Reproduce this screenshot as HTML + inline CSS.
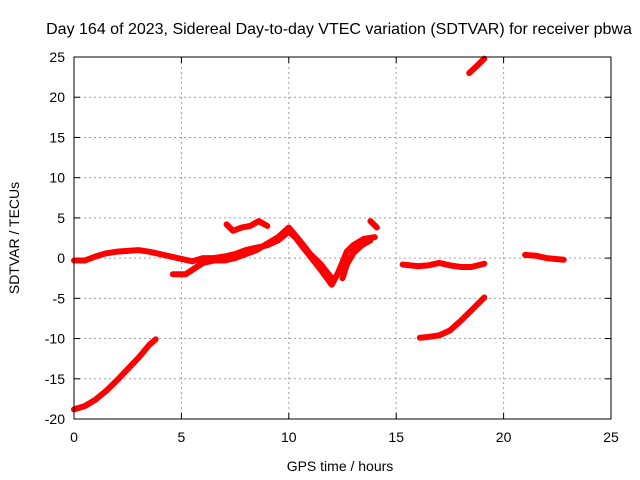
<!DOCTYPE html>
<html><head><meta charset="utf-8"><style>
body{margin:0;background:#fff}
svg{display:block;font-family:"Liberation Sans",sans-serif}
</style></head><body>
<svg id="chart" width="640" height="480">
<rect width="640" height="480" fill="#fff"/>
<text x="339" y="34" font-size="16" text-anchor="middle">Day 164 of 2023, Sidereal Day-to-day VTEC variation (SDTVAR) for receiver pbwa</text>
<text x="340" y="471" font-size="14" text-anchor="middle">GPS time / hours</text>
<text x="19" y="238" font-size="14" text-anchor="middle" transform="rotate(-90 19 238)">SDTVAR / TECUs</text>
<g id="grid"></g><g id="ticks"></g><g id="series"></g>
<rect x="74" y="57" width="537" height="362" fill="none" stroke="#000" stroke-width="1"/>
</svg>
<script>
const xTicks=[0,5,10,15,20,25];
const yTicks=[-20,-15,-10,-5,0,5,10,15,20,25];
const trackDrift=[[0,-18.8],[0.5,-18.4],[1,-17.6],[1.5,-16.5],[2,-15.2],[2.5,-13.8],[3,-12.4],[3.5,-10.8],[3.8,-10.1]];
const trackMainA=[[0,-0.3],[0.5,-0.3],[1,0.2],[1.5,0.6],[2,0.8],[2.5,0.9],[3,1],[3.5,0.8],[4,0.5],[4.5,0.2],[5,-0.1],[5.5,-0.4],[6,0],[6.5,0],[7,0.2],[7.5,0.5],[8,1],[8.5,1.3],[9,1.6],[9.5,2.2],[10,3.3],[10.3,2.6],[10.7,1.2],[11,0.2],[11.5,-1.5],[12,-3.3],[12.3,-1.8],[12.7,0.8],[13,1.6],[13.5,2.4],[14,2.6]];
const trackMainB=[[4.6,-2],[5.2,-2],[5.6,-1.3],[6,-0.6],[6.5,-0.3],[7,-0.3],[7.5,0],[8,0.5],[8.5,1],[9,1.8],[9.5,2.6],[10,3.8],[10.5,2.2],[11,0.5],[11.5,-0.8],[12,-2.5]];
const trackMainC=[[12.5,-2.5],[12.7,-0.8],[13,0.6],[13.4,1.6],[13.8,2.2]];
const trackUpper=[[7.1,4.2],[7.4,3.4],[7.8,3.8],[8.2,4],[8.6,4.6],[9,4]];
const trackBlip=[[13.8,4.6],[14.1,3.8]];
const trackLate=[[15.3,-0.8],[16,-1],[16.5,-0.9],[17,-0.6],[17.5,-0.9],[18,-1.1],[18.5,-1.1],[19.1,-0.7]];
const trackLow=[[16.1,-9.9],[16.5,-9.8],[17,-9.6],[17.5,-9],[18,-7.8],[18.5,-6.5],[19.1,-4.9]];
const trackHigh=[[18.4,23],[18.8,24],[19.1,24.8]];
const trackEnd=[[21,0.4],[21.5,0.3],[22,0],[22.8,-0.2]];
const tracks=[trackDrift,trackMainA,trackMainB,trackMainC,trackUpper,trackBlip,trackLate,trackLow,trackHigh,trackEnd];
const X0=74,X1=611,Y0=419,Y1=57;
const xs=v=>X0+(v-0)/(25-0)*(X1-X0);
const ys=v=>Y0-(v+20)/45*(Y0-Y1);
const NS="http://www.w3.org/2000/svg";
const mk=(t,a,p)=>{const e=document.createElementNS(NS,t);for(const k in a)e.setAttribute(k,a[k]);p.appendChild(e);return e;};
const grid=document.getElementById('grid'),ticks=document.getElementById('ticks'),ser=document.getElementById('series');
xTicks.forEach(t=>{const x=xs(t);
 if(t>0&&t<25){const g=mk('line',{x1:x,x2:x,y1:Y1,y2:Y0,stroke:'#a0a0a0','stroke-dasharray':'2,3'},grid);
 
 }
 mk('line',{x1:x,x2:x,y1:Y0,y2:Y0-6,stroke:'#000'},ticks);mk('line',{x1:x,x2:x,y1:Y1,y2:Y1+6,stroke:'#000'},ticks);
 const l=mk('text',{x:x,y:Y0+23,'font-size':14,'text-anchor':'middle'},ticks);l.textContent=t;
 
 });
yTicks.forEach(t=>{const y=ys(t);
 if(t>-20&&t<25){const g=mk('line',{x1:X0,x2:X1,y1:y,y2:y,stroke:'#a0a0a0','stroke-dasharray':'2,3'},grid);
 
 }
 mk('line',{x1:X0,x2:X0+6,y1:y,y2:y,stroke:'#000'},ticks);mk('line',{x1:X1,x2:X1-6,y1:y,y2:y,stroke:'#000'},ticks);
 const l=mk('text',{x:X0-9,y:y+5,'font-size':14,'text-anchor':'end'},ticks);l.textContent=t;
 
 });
tracks.forEach(tr=>{
 const p=mk('polyline',{points:tr.map(d=>xs(d[0])+','+ys(d[1])).join(' '),fill:'none',stroke:'#f00','stroke-width':6,'stroke-linejoin':'round','stroke-linecap':'round'},ser);
 
 
});
</script>
</body></html>
